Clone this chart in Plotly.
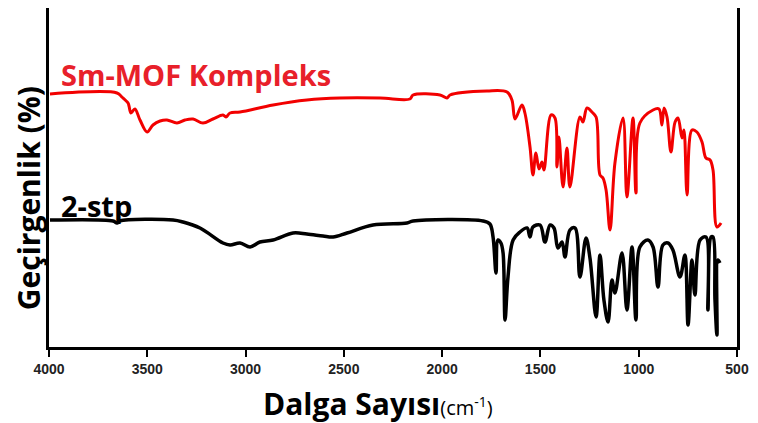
import plotly.graph_objects as go

# Sm-MOF Kompleks (red) - wavenumber (cm-1) and transmittance (a.u.)
red_wn = [3995, 3654, 3629, 3598, 3593, 3583, 3563, 3537, 3501, 3471, 3435, 3400, 3349, 3308,
          3267, 3217, 3166, 3115, 3100, 3079, 3028, 2860, 2688, 2520, 2316, 2164, 2148, 2011,
          1975, 1960, 1772, 1670, 1645, 1629, 1594, 1579, 1553, 1538, 1523, 1507, 1492, 1482,
          1446, 1426, 1416, 1406, 1385, 1365, 1350, 1299, 1284, 1263, 1238, 1217, 1197, 1182,
          1166, 1146, 1121, 1080, 1060, 1029, 1014, 994, 927, 897, 882, 871, 856, 836, 815,
          800, 780, 770, 754, 729, 704, 678, 658, 637, 622, 602, 581]
red_t = [253, 254, 250, 244, 241, 234, 238, 227, 215, 222, 226, 227, 224, 227,
         228, 224, 228, 232, 230, 234, 235, 242, 247, 249, 249, 248, 252, 252,
         249, 252, 256, 255, 247, 228, 242, 234, 200, 172, 194, 178, 185, 177,
         232, 229, 180, 210, 160, 199, 160, 230, 225, 239, 235, 230, 172, 169,
         157, 117, 184, 229, 150, 229, 154, 224, 237, 238, 222, 239, 230, 195, 225,
         229, 209, 217, 152, 217, 215, 205, 189, 187, 177, 120, 124]

# 2-stp (black)
blk_wn = [3995, 3674, 3654, 3639, 3369, 3318, 3232, 3115, 3079, 3028, 2977, 2927, 2860, 2759,
          2688, 2606, 2555, 2484, 2352, 2179, 2148, 1792, 1757, 1741, 1726, 1716, 1701, 1690,
          1680, 1665, 1639, 1604, 1568, 1553, 1538, 1502, 1477, 1451, 1431, 1411, 1390, 1375,
          1350, 1324, 1299, 1268, 1248, 1217, 1197, 1177, 1156, 1136, 1121, 1085, 1060, 1034,
          1014, 994, 953, 927, 902, 877, 851, 826, 790, 765, 749, 729, 714, 688, 658, 648,
          632, 622, 612, 602, 597, 587]
blk_t = [127, 126, 124, 126, 127, 125, 119, 104, 102, 104, 100, 105, 107, 114,
         113, 111, 110, 114, 122, 124, 126, 126, 123, 110, 74, 107, 104, 94,
         27, 70, 107, 115, 119, 110, 120, 122, 105, 122, 119, 99, 105, 90,
         117, 119, 70, 109, 89, 30, 92, 47, 25, 67, 54, 94, 37, 100,
         27, 100, 107, 100, 60, 102, 104, 97, 70, 92, 22, 87, 52, 107, 110, 37,
         110, 110, 47, 12, 87, 84]

x_ticks = [4000, 3500, 3000, 2500, 2000, 1500, 1000, 500]

fig = go.Figure()
fig.add_trace(go.Scatter(x=red_wn, y=red_t, mode="lines",
                         line=dict(color="#f20000", width=3), line_shape="spline",
                         name="Sm-MOF Kompleks"))
fig.add_trace(go.Scatter(x=blk_wn, y=blk_t, mode="lines",
                         line=dict(color="black", width=3.5), line_shape="spline",
                         name="2-stp"))

# page body has an 8px margin, so the figure is sized to fit inside the window
fig.update_layout(
    width=750, height=415,
    margin=dict(l=41, r=21, t=0, b=76),
    paper_bgcolor="white", plot_bgcolor="white",
    showlegend=False,
    font=dict(family="Open Sans", color="black"),
)
fig.update_xaxes(range=[4000, 500], tickvals=x_ticks, ticktext=[str(v) for v in x_ticks],
                 ticks="outside", ticklen=7, tickwidth=2, tickcolor="black",
                 showline=True, linewidth=2.5, linecolor="black", mirror=True,
                 showgrid=False, zeroline=False, automargin=False,
                 tickfont=dict(family="Liberation Sans", size=14, color="#222", weight="bold"))
fig.update_yaxes(range=[0, 339], showticklabels=False, ticks="",
                 showline=True, linewidth=2.5, linecolor="black", mirror=True,
                 showgrid=False, zeroline=False, automargin=False)

fig.add_annotation(text="<b>Sm-MOF Kompleks</b>", x=0.014, y=273, xref="paper", yref="y",
                   xanchor="left", yanchor="middle", showarrow=False,
                   font=dict(family="Open Sans", size=29, color="#e8202a"))
fig.add_annotation(text="<b>2-stp</b>", x=0.014, y=142, xref="paper", yref="y",
                   xanchor="left", yanchor="middle", showarrow=False,
                   font=dict(family="Open Sans", size=29, color="black"))
fig.add_annotation(text="<b>Geçirgenlik (%)</b>", x=-0.03, y=0.44, xref="paper", yref="paper",
                   xanchor="center", yanchor="middle", textangle=-90, showarrow=False,
                   font=dict(family="Open Sans", size=30, color="black"))
fig.add_annotation(text="<b>Dalga Sayısı</b><span style='font-size:20px'>(cm<sup>-1</sup>)</span>",
                   x=0.478, y=-0.168, xref="paper", yref="paper",
                   xanchor="center", yanchor="middle", showarrow=False,
                   font=dict(family="Open Sans", size=30, color="black"))

fig.write_html("out.html")
